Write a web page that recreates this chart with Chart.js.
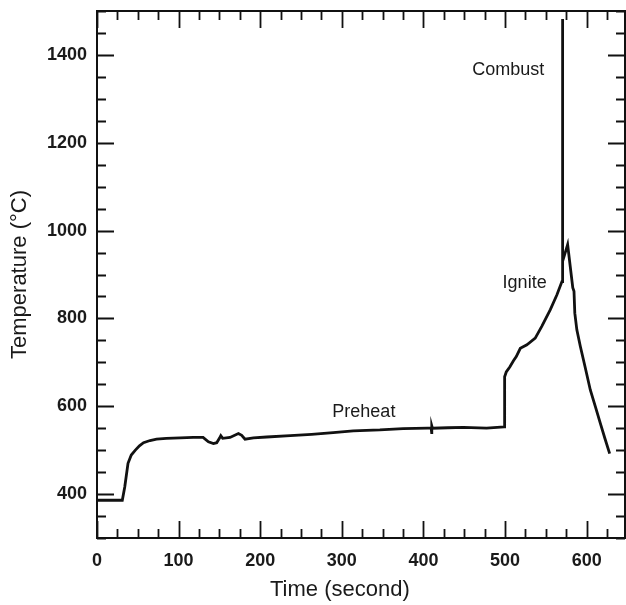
<!DOCTYPE html>
<html>
<head>
<meta charset="utf-8">
<script src="https://cdn.jsdelivr.net/npm/chart.js@4.4.1/dist/chart.umd.min.js"></script>
<style>
    html, body { margin: 0; padding: 0; background: #fff; }
</style>
</head>
<body>
<canvas id="temp_chart" width="626" height="605"></canvas>
<script>
// temperature trace
const times = [0, 30, 31, 34, 38, 42, 47, 52, 57, 65, 73, 85, 102, 118, 130, 136.5, 142.7, 146.7, 150, 151.7, 154, 163, 173.3, 177.3, 181.4, 191.7, 208, 236.7, 263, 289.4, 314, 346.6, 375, 405, 409.5, 410, 410.5, 411, 430, 449, 477.4, 499, 499.5, 501.5, 506, 510.5, 513.8, 518.7, 526.8, 537, 545, 555.5, 563.6, 569.7, 570, 570.3, 570.8, 576.7, 583, 584.5, 585.5, 588, 592.3, 598.4, 604.5, 610.7, 616.8, 622.5, 628.2];
const temps = [386, 386, 386, 416, 470, 489, 500, 510, 517, 522, 525, 527, 528, 529, 529, 519, 515, 517, 527, 533, 527, 529, 538, 534, 525, 528, 530, 533, 536, 540, 544, 546, 549, 550, 550, 537, 555, 550, 551, 552, 550, 553, 667, 678, 690, 704, 713, 732, 740, 755, 782, 820, 854, 884, 884, 1482, 930, 968, 870, 862, 812, 774, 736, 687, 637, 599, 561, 526, 492];

const xTicks = [0, 100, 200, 300, 400, 500, 600];
const yTicks = [400, 600, 800, 1000, 1200, 1400];
const xMinorStep = 25, yMinorStep = 50;

const noteLabels = ["Combust", "Ignite", "Preheat"];
const noteTimes = [504, 524, 327];
const noteTemps = [1366, 880, 587];

const fontFamily = "'Liberation Sans', Arial, Helvetica, sans-serif";
const ink = "#1a1a1a";

// frame, inward ticks, x title and annotations
const framePlugin = {
    id: "frame",
    afterDraw: function (chart) {
        const ctx = chart.ctx, area = chart.chartArea;
        const xs = chart.scales.x, ys = chart.scales.y;
        ctx.save();
        ctx.strokeStyle = "#111";
        ctx.lineWidth = 1.8;
        for (let v = xs.min; v <= xs.max; v += xMinorStep) {
            let len = (v % 100 === 0) ? 17 : 9;
            let px = Math.round(xs.getPixelForValue(v)) + 0.5;
            ctx.beginPath();
            ctx.moveTo(px, area.bottom); ctx.lineTo(px, area.bottom - len);
            ctx.moveTo(px, area.top); ctx.lineTo(px, area.top + len);
            ctx.stroke();
        }
        for (let v = ys.min; v <= ys.max; v += yMinorStep) {
            let len = (v % 200 === 0) ? 17 : 9;
            let py = Math.round(ys.getPixelForValue(v)) + 0.5;
            ctx.beginPath();
            ctx.moveTo(area.left, py); ctx.lineTo(area.left + len, py);
            ctx.moveTo(area.right, py); ctx.lineTo(area.right - len, py);
            ctx.stroke();
        }
        ctx.lineWidth = 2;
        ctx.strokeRect(area.left, area.top, area.right - area.left, area.bottom - area.top);

        ctx.fillStyle = ink;
        ctx.textAlign = "center";
        ctx.textBaseline = "middle";
        ctx.font = "22px " + fontFamily;
        ctx.fillText("Time (second)", area.left + (area.right - area.left) * 0.46, 590);

        ctx.font = "18px " + fontFamily;
        noteLabels.forEach(function (label, i) {
            ctx.fillText(label, xs.getPixelForValue(noteTimes[i]), ys.getPixelForValue(noteTemps[i]));
        });
        ctx.restore();
    }
};

function noPadding(s) {
    s.paddingTop = 0;
    s.paddingBottom = 0;
    s.paddingLeft = 0;
    s.paddingRight = 0;
}

let chart = new Chart(document.getElementById("temp_chart").getContext("2d"), {
    type: "line",
    data: {
        datasets: [{
            data: times.map(function (t, i) { return { x: t, y: temps[i] }; }),
            borderColor: "#111",
            borderWidth: 2.8,
            pointRadius: 0,
            tension: 0,
            fill: false
        }]
    },
    options: {
        responsive: false,
        animation: false,
        layout: { padding: { left: 0, right: 1, top: 11, bottom: 0 } },
        plugins: {
            legend: { display: false },
            tooltip: { enabled: false }
        },
        scales: {
            x: {
                type: "linear",
                min: 0,
                max: 647,
                afterBuildTicks: function (s) { s.ticks = xTicks.map(function (v) { return { value: v }; }); },
                afterFit: function (s) { s.height = 67; noPadding(s); },
                grid: { display: false, drawTicks: false },
                border: { display: false },
                ticks: {
                    padding: 12,
                    maxRotation: 0,
                    autoSkip: false,
                    color: ink,
                    callback: function (v) { return String(v); },
                    font: { family: fontFamily, size: 18, weight: "bold" }
                }
            },
            y: {
                type: "linear",
                min: 300,
                max: 1500,
                afterBuildTicks: function (s) { s.ticks = yTicks.map(function (v) { return { value: v }; }); },
                afterFit: function (s) { s.width = 97; noPadding(s); },
                grid: { display: false, drawTicks: false },
                border: { display: false },
                ticks: {
                    padding: 10,
                    autoSkip: false,
                    color: ink,
                    callback: function (v) { return String(v); },
                    font: { family: fontFamily, size: 18, weight: "bold" }
                },
                title: {
                    display: true,
                    text: "Temperature (°C)",
                    color: ink,
                    padding: { top: 7, bottom: 0 },
                    font: { family: fontFamily, size: 22 }
                }
            }
        }
    },
    plugins: [framePlugin]
});
</script>
</body>
</html>
